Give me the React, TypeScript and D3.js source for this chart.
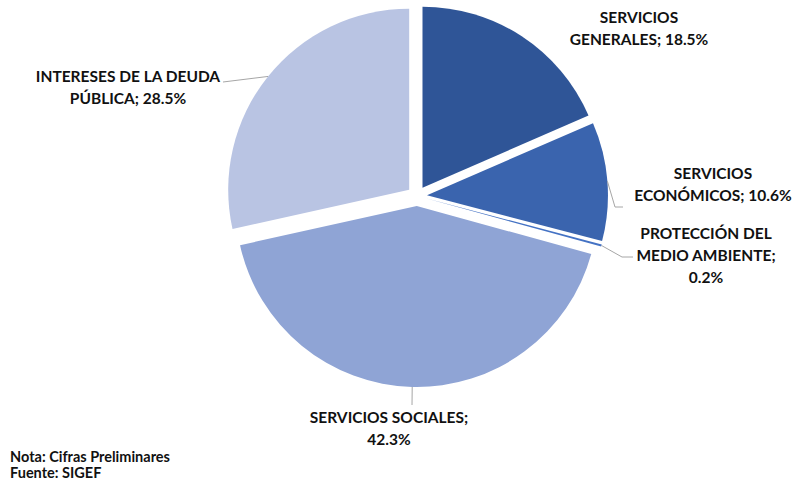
import React from 'react';
import * as d3 from 'd3';

const categories = [
  'SERVICIOS GENERALES',
  'SERVICIOS ECONÓMICOS',
  'PROTECCIÓN DEL MEDIO AMBIENTE',
  'SERVICIOS SOCIALES',
  'INTERESES DE LA DEUDA PÚBLICA',
];
const values = [18.5, 10.6, 0.2, 42.3, 28.5];
const colors = ['#2F5597', '#3A64AE', '#4472C4', '#8FA4D5', '#B9C4E3'];
const labelLines = [
  ['SERVICIOS', 'GENERALES; 18.5%'],
  ['SERVICIOS', 'ECONÓMICOS; 10.6%'],
  ['PROTECCIÓN DEL', 'MEDIO AMBIENTE;', '0.2%'],
  ['SERVICIOS SOCIALES;', '42.3%'],
  ['INTERESES DE LA DEUDA', 'PÚBLICA; 28.5%'],
];
const notes = ['Nota: Cifras Preliminares', 'Fuente: SIGEF'];

// label anchors (center x, first baseline y) and leader line elbows
const labelPos: [number, number][] = [
  [639, 23],
  [713, 179],
  [706, 239],
  [389, 423],
  [128, 82],
];
const leaders: ([number, number][] | null)[] = [
  null,
  [[615, 207], [623, 207]],
  [[622, 257], [633, 257]],
  [[412, 405]],
  [[223, 82]],
];

const width = 798;
const height = 488;
const cx = 417;
const cy = 196;
const radius = 181;
const explode = 10;
const font = 'Lato, "Open Sans", sans-serif';

const App: React.FC = () => {
  const pie = d3
    .pie<number>()
    .sort(null)
    .value(d => d);
  const arcs = pie(values);
  const arc = d3.arc<d3.PieArcDatum<number>>().innerRadius(0).outerRadius(radius);

  return (
    <svg
      width={width}
      height={height}
      style={{ position: 'absolute', left: 0, top: 0, background: '#fff' }}
    >
      {arcs.map((a, i) => {
        const mid = (a.startAngle + a.endAngle) / 2;
        const ox = cx + Math.sin(mid) * explode;
        const oy = cy - Math.cos(mid) * explode;
        return (
          <path
            key={categories[i]}
            d={arc(a) || ''}
            fill={colors[i]}
            transform={`translate(${ox},${oy})`}
          />
        );
      })}
      {arcs.map((a, i) => {
        const pts = leaders[i];
        if (!pts) return null;
        const mid = (a.startAngle + a.endAngle) / 2;
        const sx = cx + Math.sin(mid) * (explode + radius);
        const sy = cy - Math.cos(mid) * (explode + radius);
        const line = d3.line()([[sx, sy], ...pts]);
        return (
          <path
            key={'l' + i}
            d={line || ''}
            fill="none"
            stroke="#A6A6A6"
            strokeWidth={1}
          />
        );
      })}
      {labelLines.map((lines, i) => (
        <text
          key={'t' + i}
          x={labelPos[i][0]}
          y={labelPos[i][1]}
          textAnchor="middle"
          fontFamily={font}
          fontWeight="bold"
          fontSize={15.5}
          fill="#111"
        >
          {lines.map((t, j) => (
            <tspan key={j} x={labelPos[i][0]} dy={j === 0 ? 0 : 22}>
              {t}
            </tspan>
          ))}
        </text>
      ))}
      {notes.map((t, i) => (
        <text
          key={'n' + i}
          x={10}
          y={462 + i * 16}
          fontFamily={font}
          fontWeight="bold"
          fontSize={14.5}
          fill="#111"
        >
          {t}
        </text>
      ))}
    </svg>
  );
};

export default App;
